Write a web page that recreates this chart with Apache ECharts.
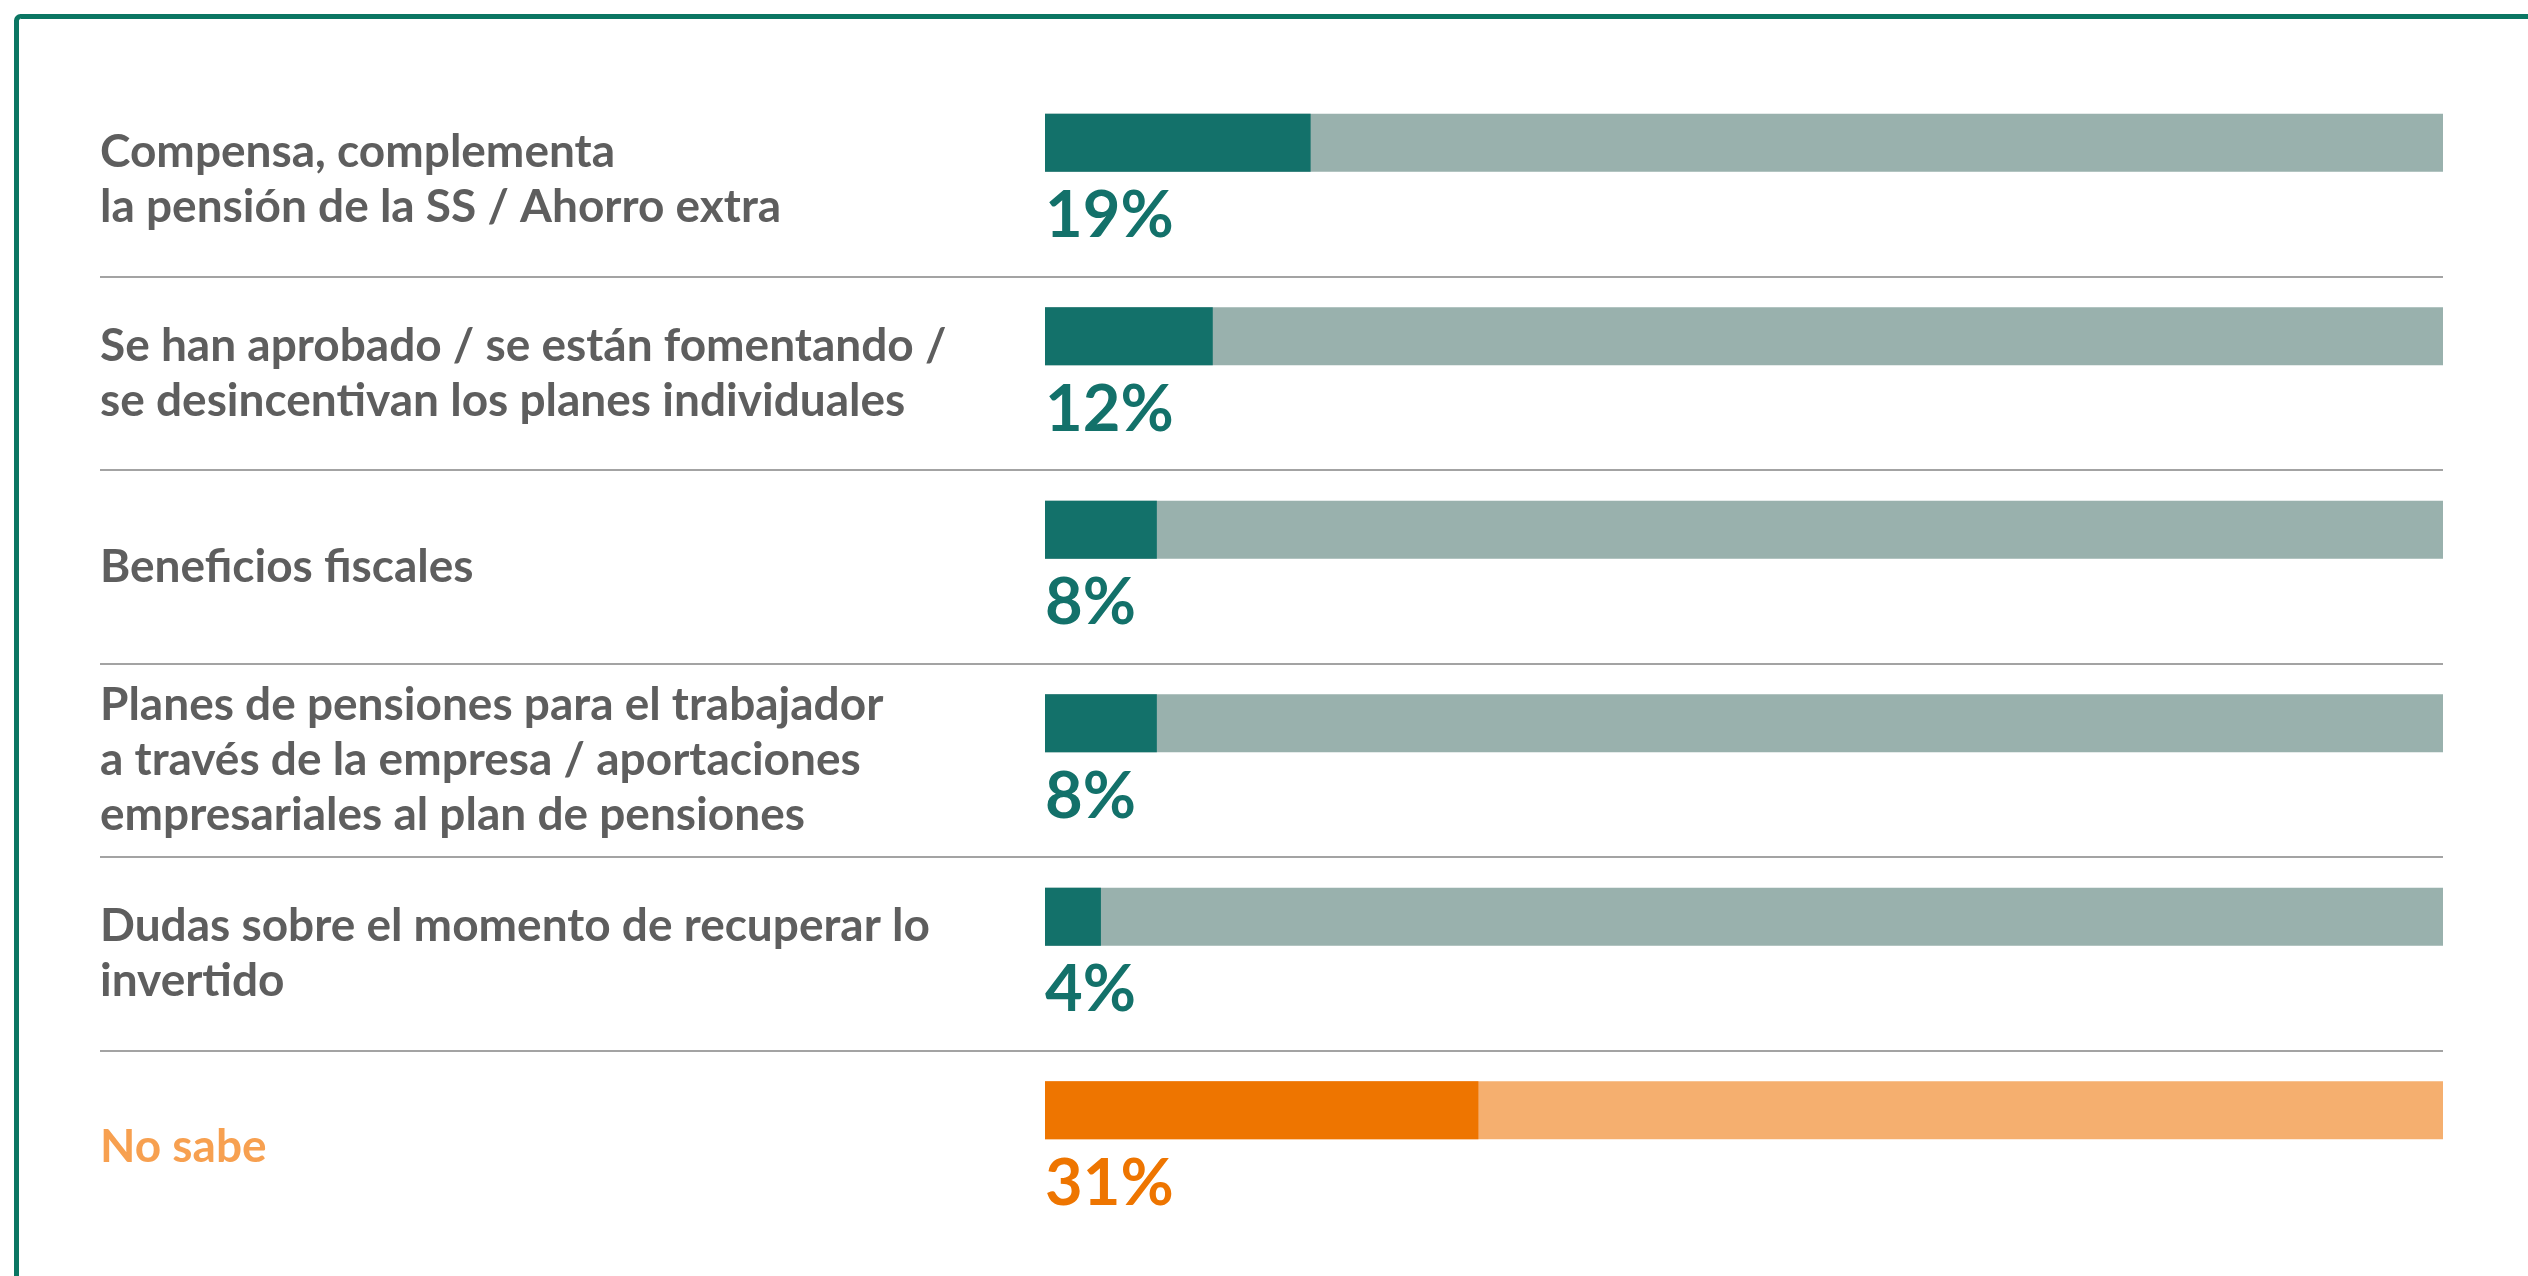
<!DOCTYPE html>
<html>
<head>
<meta charset="utf-8">
<script src="https://cdn.jsdelivr.net/npm/echarts@6/dist/echarts.min.js"></script>
<style>
  html, body { margin: 0; padding: 0; background: #fff; }
  #chart { width: 2528px; height: 1276px; }
</style>
</head>
<body>
<div id="chart"></div>
<script>
// categorias (texto en el orden del gráfico)
var categories = [
  "Compensa, complementa\nla pensión de la SS / Ahorro extra",
  "Se han aprobado / se están fomentando /\nse desincentivan los planes individuales",
  "Beneficios fiscales",
  "Planes de pensiones para el trabajador\na través de la empresa / aportaciones\nempresariales al plan de pensiones",
  "Dudas sobre el momento de recuperar lo\ninvertido",
  "No sabe"
];
var values = [19, 12, 8, 8, 4, 31];
var totals = [100, 100, 100, 100, 100, 100];

var TEAL = "#13716a";
var TEAL_LIGHT = "#99b1ad";
var ORANGE = "#ee7500";
var ORANGE_LIGHT = "#f5af6f";

function isNoSabe(name) {
  return name === "No sabe";
}

var chart = echarts.init(document.getElementById("chart"));
var option = {
  backgroundColor: "#fff",
  animation: false,
  graphic: [
    {
      type: "rect",
      left: 14,
      top: 14,
      shape: { width: 3000, height: 3000, r: 4 },
      style: { fill: "none", stroke: "#0b7663", lineWidth: 5 },
      silent: true
    }
  ],
  grid: [
    // barras
    { left: 1045, right: 85, top: 46, bottom: 69 },
    // separadores y textos
    { left: 100, right: 85, top: 83, bottom: 32 }
  ],
  xAxis: [
    { gridIndex: 0, type: "value", min: 0, max: 100, show: false },
    { gridIndex: 1, type: "value", min: 0, max: 1, show: false }
  ],
  yAxis: [
    {
      gridIndex: 0,
      type: "category",
      data: categories,
      inverse: true,
      show: false
    },
    {
      gridIndex: 1,
      type: "category",
      data: categories,
      inverse: true,
      axisLine: { show: false },
      axisTick: { show: false },
      splitLine: {
        show: true,
        showMinLine: false,
        showMaxLine: false,
        lineStyle: { color: "#a3a3a3", width: 2 }
      },
      axisLabel: {
        inside: true,
        margin: 0,
        align: "left",
        fontFamily: "Lato",
        fontWeight: "bold",
        fontSize: 46,
        lineHeight: 55,
        color: function (value) {
          return isNoSabe(value) ? "#f7a050" : "#5e5e5e";
        }
      }
    }
  ],
  series: [
    {
      name: "total",
      type: "bar",
      xAxisIndex: 0,
      yAxisIndex: 0,
      data: totals,
      barWidth: 58,
      barGap: "-100%",
      silent: true,
      itemStyle: {
        color: function (p) {
          return isNoSabe(p.name) ? ORANGE_LIGHT : TEAL_LIGHT;
        }
      }
    },
    {
      name: "valor",
      type: "bar",
      xAxisIndex: 0,
      yAxisIndex: 0,
      data: values,
      barWidth: 58,
      barGap: "-100%",
      itemStyle: {
        color: function (p) {
          return isNoSabe(p.name) ? ORANGE : TEAL;
        }
      },
      label: {
        show: true,
        position: [0, "100%"],
        align: "left",
        verticalAlign: "top",
        offset: [0, 12],
        formatter: "{c}%",
        fontFamily: "Lato",
        fontWeight: "bold",
        fontSize: 65,
        color: "inherit"
      }
    }
  ]
};
chart.setOption(option);
</script>
</body>
</html>
